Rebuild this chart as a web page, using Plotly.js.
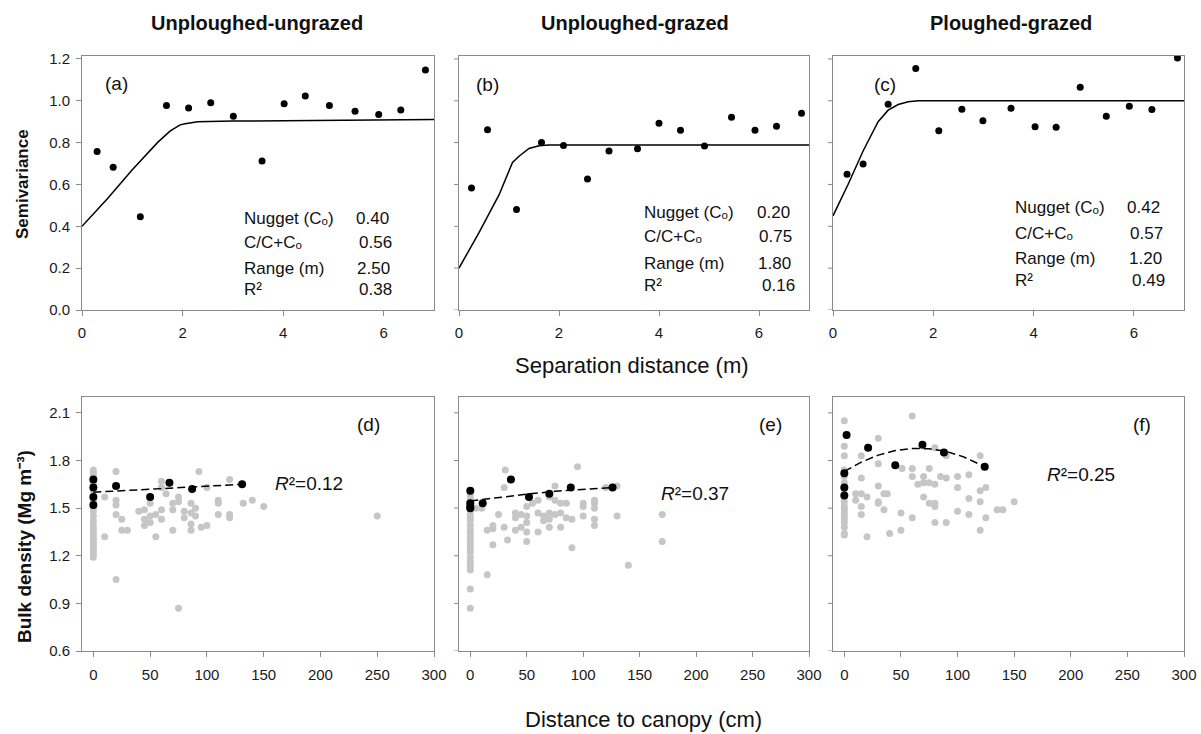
<!DOCTYPE html>
<html>
<head>
<meta charset="utf-8">
<script src="https://cdn.plot.ly/plotly-3.0.1.min.js"></script>
<style>html,body{margin:0;padding:0;background:#fff;}#chart{width:1201px;height:734px;}</style>
</head>
<body>
<div id="chart"></div>
<script>
// ---------- DATA ----------
const panelTitles = ["Unploughed-ungrazed", "Unploughed-grazed", "Ploughed-grazed"];
const topLabels = ["(a)", "(b)", "(c)"];
const bottomLabels = ["(d)", "(e)", "(f)"];
const statNames = ["Nugget (C\u2092)", "C/C+C\u2092", "Range (m)", "R\u00B2"];
const statsA = ["0.40", "0.56", "2.50", "0.38"];
const statsB = ["0.20", "0.75", "1.80", "0.16"];
const statsC = ["0.42", "0.57", "1.20", "0.49"];
const r2Labels = ["<i>R</i>\u00B2=0.12", "<i>R</i>\u00B2=0.37", "<i>R</i>\u00B2=0.25"];
const semiTicks = [0, 0.2, 0.4, 0.6, 0.8, 1.0, 1.2];
const bulkTicks = [0.6, 0.9, 1.2, 1.5, 1.8, 2.1];

// Semivariograms (separation distance m, semivariance)
const a_dist = [0.30, 0.62, 1.16, 1.68, 2.12, 2.56, 3.01, 3.58, 4.02, 4.44, 4.92, 5.43, 5.90, 6.34, 6.83];
const a_semi = [0.757, 0.682, 0.446, 0.978, 0.966, 0.990, 0.926, 0.712, 0.986, 1.023, 0.977, 0.950, 0.934, 0.956, 1.147];
const a_fit_x = [0, 0.5, 1.0, 1.5, 1.75, 1.95, 2.05, 2.3, 3, 4, 5, 6, 7];
const a_fit_y = [0.40, 0.53, 0.67, 0.80, 0.855, 0.885, 0.89, 0.90, 0.903, 0.905, 0.907, 0.909, 0.91];

const b_dist = [0.25, 0.57, 1.15, 1.65, 2.09, 2.57, 3.00, 3.57, 4.00, 4.43, 4.91, 5.45, 5.92, 6.35, 6.85];
const b_semi = [0.583, 0.861, 0.480, 0.800, 0.786, 0.626, 0.760, 0.771, 0.892, 0.859, 0.784, 0.921, 0.859, 0.878, 0.940];
const b_fit_x = [0, 0.4, 0.8, 1.07, 1.2, 1.4, 1.6, 1.8, 7];
const b_fit_y = [0.20, 0.37, 0.55, 0.705, 0.735, 0.772, 0.785, 0.789, 0.789];

const c_dist = [0.28, 0.60, 1.10, 1.65, 2.11, 2.57, 2.99, 3.55, 4.03, 4.45, 4.93, 5.45, 5.91, 6.36, 6.87];
const c_semi = [0.649, 0.698, 0.983, 1.154, 0.857, 0.959, 0.904, 0.964, 0.876, 0.873, 1.065, 0.926, 0.974, 0.958, 1.205];
const c_fit_x = [0, 0.3, 0.6, 0.9, 1.1, 1.3, 1.5, 1.7, 7];
const c_fit_y = [0.45, 0.60, 0.76, 0.90, 0.955, 0.982, 0.995, 1.0, 1.0];

// Bulk density vs distance to canopy (cm, Mg m-3)
const d_gray_x = [0,0,0,0,0,0,0,0,0,0,0,0,0,0,0,0,0,0,0,0,0,0,
  10,10,20,20,20,20,20,25,25,30,40,45,45,45,50,50,50,55,55,60,60,60,60,64,70,70,70,75,75,75,80,80,86,86,86,86,90,90,93,95,100,100,110,110,110,120,120,120,132,140,150,250];
const d_gray_y = [1.74,1.72,1.70,1.67,1.65,1.61,1.55,1.50,1.48,1.45,1.42,1.39,1.37,1.35,1.33,1.31,1.29,1.27,1.25,1.23,1.21,1.19,
  1.57,1.32,1.73,1.55,1.52,1.46,1.05,1.43,1.36,1.36,1.48,1.49,1.43,1.39,1.45,1.53,1.41,1.32,1.46,1.67,1.63,1.49,1.43,1.59,1.53,1.49,1.36,1.57,1.54,0.87,1.48,1.44,1.53,1.47,1.40,1.36,1.50,1.45,1.73,1.38,1.63,1.39,1.55,1.53,1.46,1.68,1.46,1.44,1.53,1.55,1.51,1.45];
const d_black_x = [0, 0, 0, 0, 20, 50, 67, 87, 131];
const d_black_y = [1.68, 1.63, 1.57, 1.52, 1.64, 1.57, 1.66, 1.62, 1.65];
const d_fit_x = [0, 131];
const d_fit_y = [1.60, 1.65];

const e_gray_x = [0,0,0,0,0,0,0,0,0,0,0,0,0,0,0,0,0,0,0,0,0,0,0,
  5,10,15,15,20,20,20,25,30,30,33,31,40,40,40,45,45,50,50,50,50,50,55,60,60,60,65,65,70,70,70,70,75,75,75,80,80,80,85,85,90,90,95,100,100,100,110,110,110,110,110,120,130,130,140,170,170];
const e_gray_y = [1.58,1.56,1.54,1.49,1.46,1.44,1.42,1.39,1.36,1.34,1.32,1.30,1.28,1.26,1.24,1.22,1.19,1.17,1.15,1.13,1.11,0.99,0.87,
  1.50,1.50,1.36,1.08,1.39,1.37,1.27,1.46,1.63,1.38,1.30,1.74,1.47,1.44,1.36,1.46,1.38,1.51,1.45,1.41,1.35,1.29,1.53,1.55,1.47,1.35,1.45,1.42,1.57,1.47,1.43,1.38,1.64,1.55,1.46,1.53,1.47,1.38,1.53,1.44,1.43,1.25,1.76,1.53,1.51,1.45,1.55,1.53,1.50,1.43,1.39,1.63,1.64,1.45,1.14,1.46,1.29];
const e_black_x = [0, 0, 0, 0, 11, 36, 52, 70, 89, 126];
const e_black_y = [1.61, 1.53, 1.51, 1.50, 1.53, 1.68, 1.57, 1.59, 1.63, 1.63];
const e_fit_x = [0, 25, 50, 75, 100, 126];
const e_fit_y = [1.545, 1.568, 1.588, 1.606, 1.620, 1.630];

const f_gray_x = [0,0,0,0,0,0,0,0,0,0,0,0,0,0,0,0,0,0,
  10,10,15,15,15,15,15,20,20,30,30,30,30,30,35,38,35,40,50,50,51,60,60,60,60,65,70,70,70,75,75,75,80,80,80,80,80,85,90,90,90,100,100,100,110,110,110,120,120,120,120,125,125,135,140,150];
const f_gray_y = [2.05,1.89,1.83,1.74,1.70,1.66,1.62,1.57,1.54,1.51,1.49,1.47,1.45,1.43,1.41,1.38,1.34,1.33,
  1.59,1.55,1.83,1.69,1.59,1.51,1.46,1.57,1.32,1.94,1.78,1.64,1.54,1.53,1.59,1.59,1.49,1.34,1.47,1.36,1.75,2.08,1.75,1.70,1.44,1.65,1.70,1.66,1.57,1.75,1.66,1.53,1.88,1.65,1.53,1.51,1.41,1.70,1.83,1.69,1.41,1.70,1.63,1.48,1.71,1.56,1.46,1.83,1.61,1.54,1.36,1.63,1.44,1.49,1.49,1.54];
const f_black_x = [2, 0, 0, 0, 21, 45, 69, 88, 124];
const f_black_y = [1.96, 1.72, 1.63, 1.58, 1.88, 1.77, 1.90, 1.85, 1.76];
const f_fit_x = [0, 15, 30, 45, 60, 75, 90, 105, 124];
const f_fit_y = [1.731, 1.790, 1.834, 1.863, 1.876, 1.874, 1.857, 1.824, 1.761];

// ---------- LAYOUT ----------
const W = 1201, H = 734;
const PX = v => v / W, PY = v => 1 - v / H;
const FONT = "Liberation Sans, Arial, sans-serif";
const LINE = "#8a8a8a";
const colsPx = [[82, 434], [459, 809], [833, 1184]];
const topPx = [56, 310], botPx = [397, 651];

const traces = [];
function addTop(i, xs, ys, fx, fy) {
  const xa = "x" + (i + 1), ya = "y" + (i + 1);
  traces.push({x: fx, y: fy, xaxis: xa, yaxis: ya, type: "scatter", mode: "lines",
    line: {color: "#000", width: 1.5}, hoverinfo: "skip"});
  traces.push({x: xs, y: ys, xaxis: xa, yaxis: ya, type: "scatter", mode: "markers",
    marker: {color: "#000", size: 7}});
}
function addBot(i, gx, gy, bx, by, fx, fy) {
  const xa = "x" + (i + 4), ya = "y" + (i + 4);
  traces.push({x: gx, y: gy, xaxis: xa, yaxis: ya, type: "scatter", mode: "markers",
    marker: {color: "#c6c6c6", size: 7}});
  traces.push({x: fx, y: fy, xaxis: xa, yaxis: ya, type: "scatter", mode: "lines",
    line: {color: "#000", width: 1.5, dash: "8px,4px"}});
  traces.push({x: bx, y: by, xaxis: xa, yaxis: ya, type: "scatter", mode: "markers",
    marker: {color: "#000", size: 8}});
}
addTop(0, a_dist, a_semi, a_fit_x, a_fit_y);
addTop(1, b_dist, b_semi, b_fit_x, b_fit_y);
addTop(2, c_dist, c_semi, c_fit_x, c_fit_y);
addBot(0, d_gray_x, d_gray_y, d_black_x, d_black_y, d_fit_x, d_fit_y);
addBot(1, e_gray_x, e_gray_y, e_black_x, e_black_y, e_fit_x, e_fit_y);
addBot(2, f_gray_x, f_gray_y, f_black_x, f_black_y, f_fit_x, f_fit_y);

const layout = {
  width: W, height: H, margin: {l: 0, r: 0, t: 0, b: 0},
  paper_bgcolor: "#fff", plot_bgcolor: "#fff", showlegend: false,
  font: {family: FONT, size: 15, color: "#111"},
  annotations: [], shapes: []
};
const axBase = {showline: true, linecolor: LINE, linewidth: 1, mirror: true,
  ticks: "outside", ticklen: 5, tickcolor: LINE, tickwidth: 1,
  showgrid: false, zeroline: false, fixedrange: true,
  tickfont: {family: FONT, size: 15, color: "#1a1a1a"}};

for (let i = 0; i < 3; i++) {
  const dom = [PX(colsPx[i][0]), PX(colsPx[i][1])];
  const first = i === 0;
  layout["xaxis" + (i + 1)] = Object.assign({}, axBase, {domain: dom, anchor: "y" + (i + 1),
    range: [0, 7], tick0: 0, dtick: 2, ticklabelstandoff: 4});
  layout["yaxis" + (i + 1)] = Object.assign({}, axBase, {domain: [PY(topPx[1]), PY(topPx[0])],
    anchor: "x" + (i + 1), range: [0, 1.214], tickmode: "array", tickvals: first ? semiTicks : [],
    tickformat: ".1f", showticklabels: first, ticks: first ? "outside" : "", ticklabelstandoff: 3});
  layout["xaxis" + (i + 4)] = Object.assign({}, axBase, {domain: dom, anchor: "y" + (i + 4),
    range: [-10, 300], tick0: 0, dtick: 50, ticklabelstandoff: 5});
  layout["yaxis" + (i + 4)] = Object.assign({}, axBase, {domain: [PY(botPx[1]), PY(botPx[0])],
    anchor: "x" + (i + 4), range: [0.6, 2.2], tickmode: "array", tickvals: first ? bulkTicks : [],
    tickformat: ".1f", showticklabels: first, ticks: first ? "outside" : "", ticklabelstandoff: 3});
  if (!first) {
    // unlabelled y tick marks on the inner panels, placed on the axis scale
    [[i + 1, semiTicks], [i + 4, bulkTicks]].forEach(([n, vals]) => {
      vals.forEach(v => layout.shapes.push({type: "line", xref: "x" + n + " domain", yref: "y" + n,
        xsizemode: "pixel", xanchor: 0, x0: -5, x1: 0, y0: v, y1: v,
        line: {color: LINE, width: 1}, layer: "above"}));
    });
  }
}

function ann(text, x, y, size, opts) {
  layout.annotations.push(Object.assign({text: text, xref: "paper", yref: "paper",
    x: PX(x), y: PY(y), showarrow: false, xanchor: "center", yanchor: "middle",
    font: {family: FONT, size: size, color: "#111"}}, opts || {}));
}
const titleX = [257, 635, 1011];
panelTitles.forEach((t, i) => ann("<b>" + t + "</b>", titleX[i], 23, 20));
const topLabPos = [[116, 83], [487, 84], [885, 85]];
topLabels.forEach((t, i) => ann(t, topLabPos[i][0], topLabPos[i][1], 19));
const botLabPos = [[368, 425], [771, 425], [1142, 425]];
bottomLabels.forEach((t, i) => ann(t, botLabPos[i][0], botLabPos[i][1], 19));
const statBlocks = [
  {vals: statsA, lx: 242, vx: [354, 357, 355, 357], ys: [218, 243, 268, 289]},
  {vals: statsB, lx: 642, vx: [755, 757, 756, 760], ys: [212, 237, 263, 285]},
  {vals: statsC, lx: 1013, vx: [1125, 1128, 1127, 1130], ys: [208, 233, 258, 281]}
];
statBlocks.forEach(b => {
  statNames.forEach((n, k) => {
    ann(n, b.lx, b.ys[k], 17, {xanchor: "left"});
    ann(b.vals[k], b.vx[k], b.ys[k], 17, {xanchor: "left"});
  });
});
const r2Pos = [[273, 483], [659, 494], [1045, 475]];
r2Labels.forEach((t, i) => ann(t, r2Pos[i][0], r2Pos[i][1], 19, {xanchor: "left"}));
ann("Separation distance (m)", 632, 365, 22);
ann("Distance to canopy (cm)", 643, 719, 22);
ann("<b>Semivariance</b>", 23, 184, 17, {textangle: -90});
ann("<b>Bulk density (Mg m\u207B\u00B3)</b>", 24, 547, 19, {textangle: -90});

Plotly.newPlot("chart", traces, layout, {displayModeBar: false, staticPlot: true});
</script>
</body>
</html>
